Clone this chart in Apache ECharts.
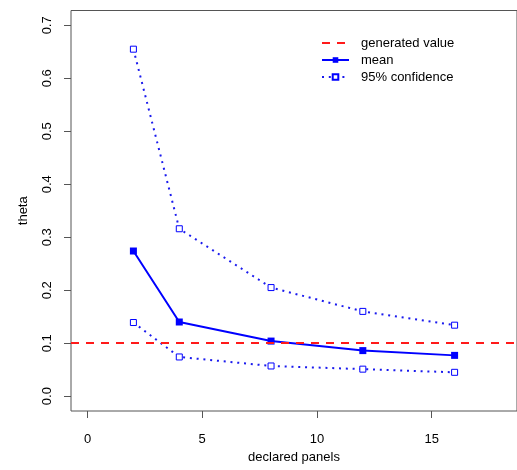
<!DOCTYPE html>
<html>
<head>
<meta charset="utf-8">
<script src="https://cdn.jsdelivr.net/npm/echarts@6/dist/echarts.min.js"></script>
<style>html,body{margin:0;padding:0;background:#fff;}#c{width:517px;height:470px;}</style>
</head>
<body>
<div id="c"></div>
<script>
// data
var panels = [2, 4, 8, 12, 16];
var meanTheta = [0.274, 0.140, 0.104, 0.086, 0.077];
var upperCI = [0.655, 0.316, 0.205, 0.160, 0.134];
var lowerCI = [0.139, 0.074, 0.057, 0.051, 0.045];
var generatedValue = 0.1;
var xTicks = [0, 5, 10, 15];
var yTicks = [0, 0.1, 0.2, 0.3, 0.4, 0.5, 0.6, 0.7];

function pairs(xs, ys) { return xs.map(function (x, i) { return [x, ys[i]]; }); }

var FONT = 'Liberation Sans, Arial, sans-serif';
var BLUE = '#0000ff';
var RED = '#ff1a1a';
var DOT = [2, 4.8];

var chart = echarts.init(document.getElementById('c'), null, {renderer: 'canvas'});
chart.setOption({
  animation: false,
  backgroundColor: '#fff',
  textStyle: {fontFamily: FONT},
  grid: {left: 71, top: 10.5, width: 450, height: 400.5, show: true, borderColor: '#555', borderWidth: 1, containLabel: false},
  legend: {
    orient: 'vertical', left: 321, top: 35.5, padding: 0,
    itemWidth: 27, itemHeight: 7, itemGap: 2,
    textStyle: {fontFamily: FONT, fontSize: 13, color: '#000', lineHeight: 15, padding: [0, 0, 0, 7]},
    data: ['generated value', 'mean', '95% confidence']
  },
  xAxis: {
    type: 'value', min: -0.72, max: 18.72,
    name: 'declared panels', nameLocation: 'middle', nameGap: 35,
    nameTextStyle: {fontFamily: FONT, fontSize: 13, color: '#000'},
    axisLine: {show: false, onZero: false},
    splitLine: {show: false},
    axisTick: {show: true, inside: false, length: 7, customValues: xTicks, lineStyle: {color: '#555'}},
    axisLabel: {customValues: xTicks, margin: 22, fontFamily: FONT, fontSize: 13, color: '#000'}
  },
  yAxis: {
    type: 'value', min: -0.028, max: 0.728,
    name: 'theta', nameLocation: 'middle', nameGap: 41,
    nameTextStyle: {fontFamily: FONT, fontSize: 13, color: '#000'},
    axisLine: {show: false, onZero: false},
    splitLine: {show: false},
    axisTick: {show: true, inside: false, length: 7, customValues: yTicks, lineStyle: {color: '#555'}},
    axisLabel: {customValues: yTicks, rotate: 90, margin: 17, fontFamily: FONT, fontSize: 13, color: '#000',
      formatter: function (v) { return v.toFixed(1); }}
  },
  series: [
    {
      name: 'generated value', type: 'line', data: [], symbol: 'none',
      lineStyle: {color: RED, width: 2, type: [8, 7]},
      itemStyle: {color: RED, opacity: 0},
      markLine: {
        silent: true, symbol: 'none', label: {show: false},
        lineStyle: {color: RED, width: 2, type: [8, 7], opacity: 1},
        data: [{yAxis: generatedValue}]
      }
    },
    {
      name: 'mean', type: 'line', data: pairs(panels, meanTheta),
      symbol: 'rect', symbolSize: 7, showAllSymbol: true,
      lineStyle: {color: BLUE, width: 2},
      itemStyle: {color: BLUE}
    },
    {
      name: '95% confidence', type: 'line', data: pairs(panels, upperCI),
      symbol: 'rect', symbolSize: 6,
      lineStyle: {color: '#1a1aee', width: 2, type: DOT},
      itemStyle: {color: '#fff', borderColor: BLUE, borderWidth: 1}
    },
    {
      name: '95% confidence', type: 'line', data: pairs(panels, lowerCI),
      symbol: 'rect', symbolSize: 6,
      lineStyle: {color: '#1a1aee', width: 2, type: DOT},
      itemStyle: {color: '#fff', borderColor: BLUE, borderWidth: 1}
    }
  ]
});
</script>
</body>
</html>
